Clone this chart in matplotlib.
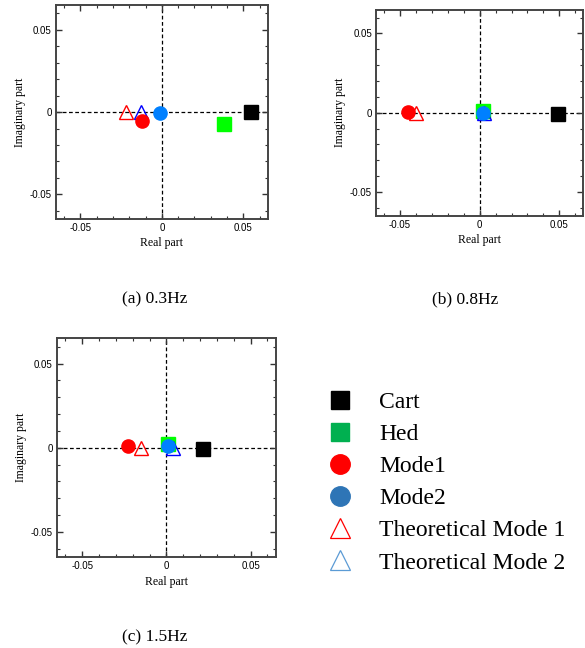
import matplotlib
matplotlib.use("Agg")
import matplotlib.pyplot as plt
from matplotlib.lines import Line2D
from matplotlib.ticker import MultipleLocator

# ===============================
# Data (real, imaginary) per panel
# ===============================
captions = ["(a) 0.3Hz", "(b) 0.8Hz", "(c) 1.5Hz"]

cart_re = [0.055, 0.049, 0.022]
cart_im = [0.0, -0.0005, -0.0005]
hed_re = [0.038, 0.002, 0.001]
hed_im = [-0.007, 0.001, 0.002]
mode1_re = [-0.012, -0.045, -0.023]
mode1_im = [-0.0055, 0.0005, 0.0008]
mode2_re = [-0.001, 0.002, 0.001]
mode2_im = [-0.0005, 0.0, 0.001]
theo1_re = [-0.022, -0.040, -0.015]
theo1_im = [0.0, 0.0, 0.0]
theo2_re = [-0.013, 0.003, 0.004]
theo2_im = [0.0, 0.0, 0.0]

legend_labels = ["Cart", "Hed", "Mode1", "Mode2",
                 "Theoretical Mode 1", "Theoretical Mode 2"]

SERIF = "Liberation Serif"
SANS = "Liberation Sans"

fig = plt.figure(figsize=(5.85, 6.48), dpi=100)

# axes rectangles [left, bottom, width, height]
rects = [
    [0.0957, 0.662, 0.362, 0.330],
    [0.643, 0.667, 0.354, 0.318],
    [0.0974, 0.140, 0.374, 0.338],
]
caption_pos = [(0.265, 0.538), (0.795, 0.538), (0.265, 0.017)]

for i, r in enumerate(rects):
    ax = fig.add_axes(r)
    ax.axhline(0, color="black", ls=(0, (3, 2)), lw=0.9, zorder=1)
    ax.axvline(0, color="black", ls=(0, (3, 2)), lw=0.9, zorder=1)

    ax.plot(cart_re[i], cart_im[i], "s", color="black", ms=9.5, zorder=3)
    ax.plot(hed_re[i], hed_im[i], "s", color="#00ff00", ms=9.5, zorder=3)
    ax.plot(theo1_re[i], theo1_im[i], "^", mfc="none", mec="red", mew=1.0, ms=10, zorder=4)
    ax.plot(theo2_re[i], theo2_im[i], "^", mfc="none", mec="blue", mew=1.0, ms=10, zorder=4)
    ax.plot(mode1_re[i], mode1_im[i], "o", color="red", ms=9.5, zorder=5)
    ax.plot(mode2_re[i], mode2_im[i], "o", color="#0080ff", ms=9.5, zorder=5)

    ax.set_xlim(-0.065, 0.065)
    ax.set_ylim(-0.065, 0.065)
    ax.xaxis.set_minor_locator(MultipleLocator(0.01))
    ax.yaxis.set_minor_locator(MultipleLocator(0.01))
    ax.set_xticks([-0.05, 0, 0.05])
    ax.set_xticklabels(["-0.05", "0", "0.05"])
    ax.set_yticks([-0.05, 0, 0.05])
    ax.set_yticklabels(["-0.05", "0", "0.05"])
    ax.tick_params(which="both", direction="in", top=True, right=True,
                   color="#333333", labelsize=7, pad=3)
    ax.tick_params(which="major", length=4, width=1)
    ax.tick_params(which="minor", length=2, width=0.8)
    for lab in ax.get_xticklabels() + ax.get_yticklabels():
        lab.set_family(SANS)
    for sp in ax.spines.values():
        sp.set_color("#444444")
        sp.set_linewidth(1.4)

    ax.set_xlabel("Real part", family=SERIF, fontsize=8.5, labelpad=3)
    ax.set_ylabel("Imaginary part", family=SERIF, fontsize=8.5, labelpad=3)

    fig.text(caption_pos[i][0], caption_pos[i][1], captions[i],
             family=SERIF, fontsize=12.5, ha="center", va="center")

# legend
handles = [
    Line2D([], [], ls="none", marker="s", color="black", ms=13),
    Line2D([], [], ls="none", marker="s", color="#00b050", ms=13),
    Line2D([], [], ls="none", marker="o", color="red", ms=14),
    Line2D([], [], ls="none", marker="o", color="#2e75b6", ms=14),
    Line2D([], [], ls="none", marker="^", mfc="none", mec="red", mew=0.9, ms=14),
    Line2D([], [], ls="none", marker="^", mfc="none", mec="#5b9bd5", mew=0.9, ms=14),
]
fig.legend(handles, legend_labels, loc="upper left",
           bbox_to_anchor=(0.5207, 0.429), frameon=False,
           prop={"family": SERIF, "size": 17},
           handlelength=1.2, handletextpad=1.05, labelspacing=0.45)

fig.savefig("out.png", dpi=100)
